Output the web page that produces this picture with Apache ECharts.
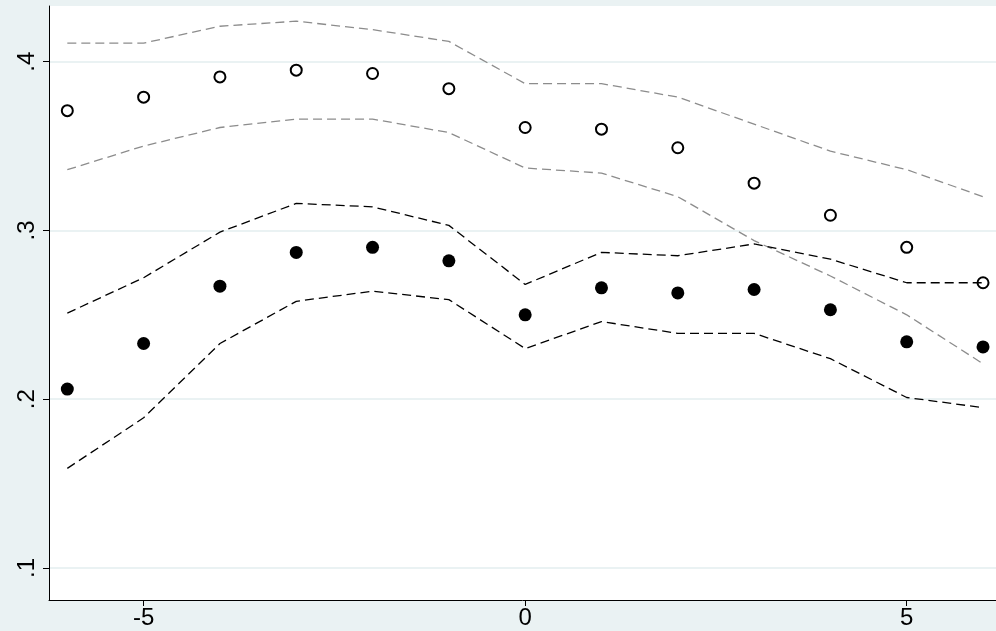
<!DOCTYPE html>
<html>
<head>
<meta charset="UTF-8">
<script src="https://cdn.jsdelivr.net/npm/echarts@6/dist/echarts.min.js"></script>
<style>html,body{margin:0;background:#eaf2f3}#main{width:996px;height:631px}</style>
</head>
<body>
<div id="main"></div>
<script>
let xs = [-6, -5, -4, -3, -2, -1, 0, 1, 2, 3, 4, 5, 6];
let hollow = [.371, .379, .391, .395, .393, .384, .361, .360, .349, .328, .309, .290, .269];
let hollowHi = [.411, .411, .421, .424, .419, .412, .387, .387, .379, .363, .347, .336, .320];
let hollowLo = [.336, .350, .361, .366, .366, .358, .337, .334, .320, .294, .273, .250, .221];
let filled = [.206, .233, .267, .287, .290, .282, .250, .266, .263, .265, .253, .234, .231];
let filledHi = [.251, .272, .299, .316, .314, .303, .268, .287, .285, .292, .283, .269, .269];
let filledLo = [.159, .189, .233, .258, .264, .259, .230, .246, .239, .239, .224, .201, .195];
let xTicks = [-5, 0, 5];
let yTicks = [.1, .2, .3, .4];

function pts(v) { return xs.map((x, i) => [x, v[i]]); }
function band(v, c) {
    return { type: 'line', data: pts(v), symbol: 'none', silent: true,
        lineStyle: { color: c, width: 1.3, type: [9, 5] } };
}
let lbl = { color: '#000', fontSize: 24, fontFamily: 'Liberation Sans' };
let myChart = echarts.init(document.getElementById('main'));
myChart.setOption({
    backgroundColor: '#eaf2f3',
    animation: false,
    grid: { left: 49, right: 0, top: 6, bottom: 31, show: true, backgroundColor: '#fff', borderWidth: 0 },
    xAxis: {
        type: 'value', min: -6.24, max: 6.17,
        axisLine: { show: true, onZero: false, lineStyle: { color: '#000' } },
        axisTick: { show: true, customValues: xTicks, length: 6, lineStyle: { color: '#000' } },
        axisLabel: Object.assign({ customValues: xTicks, margin: 6 }, lbl),
        splitLine: { show: false }
    },
    yAxis: {
        type: 'value', min: 0.081, max: 0.433,
        axisLine: { show: true, onZero: false, lineStyle: { color: '#000' } },
        axisTick: { show: true, customValues: yTicks, length: 6, lineStyle: { color: '#000' } },
        axisLabel: Object.assign({ customValues: yTicks, rotate: 90, margin: 10,
            formatter: v => String(v).replace('0.', '.') }, lbl),
        splitLine: { show: true, customValues: yTicks, lineStyle: { color: '#eaf2f3', width: 2 } }
    },
    series: [
        band(hollowHi, '#8c8c8c'), band(hollowLo, '#8c8c8c'),
        band(filledHi, '#000'), band(filledLo, '#000'),
        { type: 'scatter', data: pts(hollow), symbolSize: 11,
          itemStyle: { color: '#fff', borderColor: '#000', borderWidth: 2, opacity: 1 } },
        { type: 'scatter', data: pts(filled), symbolSize: 13, itemStyle: { color: '#000', opacity: 1 } }
    ]
});
</script>
</body>
</html>
